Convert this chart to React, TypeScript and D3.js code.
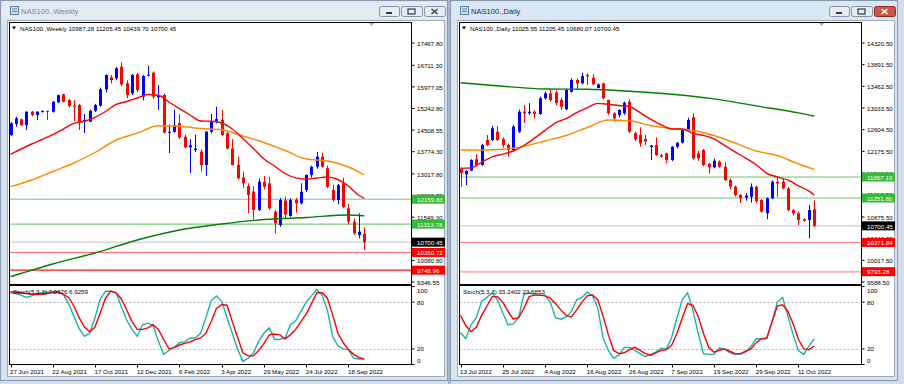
import React from 'react';
import * as d3 from 'd3';

// ---------- NAS100., Weekly ----------
const weeklyOpen = [14342, 14715, 14875, 14681, 15133, 15021, 15140, 15160, 15133, 15450, 15725, 15530, 15340, 15361, 14793, 14793, 15167, 15337, 15894, 16300, 16268, 16662, 16098, 15758, 16404, 15643, 16360, 16459, 15620, 15701, 14420, 14450, 14740, 14283, 13925, 13830, 13774, 13322, 14454, 14794, 14851, 14400, 13890, 13330, 12900, 12606, 12420, 11793, 12755, 12700, 11735, 11284, 12116, 11590, 12133, 12020, 12473, 12983, 13264, 13604, 13210, 12473, 12133, 12700, 11850, 11400, 10943, 10987.28];
const weeklyHigh = [14780, 14964, 14900, 15150, 15160, 15150, 15180, 15170, 15490, 15720, 15740, 15560, 15530, 15400, 15055, 15200, 15400, 15950, 16400, 16380, 16650, 16810, 16200, 16420, 16450, 16380, 16700, 16500, 16040, 15750, 14700, 15200, 15055, 14350, 14200, 14360, 13850, 14470, 15055, 15303, 15190, 14450, 14200, 13600, 13100, 12700, 12600, 12860, 12948, 12925, 11793, 12200, 12250, 12190, 12200, 12700, 13000, 13300, 13763, 13740, 13300, 12650, 12680, 12890, 12000, 11500, 11680, 11205.45];
const weeklyLow = [14300, 14624, 14650, 14511, 14980, 14850, 15100, 14850, 15100, 15430, 15450, 15280, 14817, 14512, 14410, 14780, 15120, 15300, 15790, 16100, 16200, 16000, 15590, 15700, 15800, 15520, 16330, 15580, 15191, 14400, 13730, 14420, 14200, 13900, 13050, 13760, 13095, 12948, 14400, 14740, 14300, 13850, 13300, 12830, 12550, 11680, 11475, 11750, 12500, 11800, 10997, 11225, 11500, 11560, 11700, 11980, 12400, 12900, 13200, 13230, 12540, 12080, 11990, 11850, 11300, 10950, 10830, 10439.70];
const weeklyClose = [14739, 14909, 14681, 15133, 15021, 15133, 15160, 15130, 15473, 15700, 15473, 15327, 15300, 14793, 14851, 15167, 15361, 15894, 16380, 16210, 16608, 16064, 15701, 16380, 15871, 16346, 16390, 15643, 15700, 14420, 14450, 14680, 14263, 13925, 13990, 13880, 13322, 14454, 14794, 14885, 14342, 13890, 13322, 12870, 12700, 12303, 11793, 12755, 12585, 11850, 11340, 12133, 11640, 12133, 12020, 12415, 12983, 13264, 13604, 13264, 12585, 12133, 12640, 11900, 11400, 11000, 11055, 10700.45];

// moving averages: [bar index, value]
const weeklyMaFast = [[0, 13686], [2, 13866], [4, 14036], [6, 14189], [8, 14352], [10, 14545], [12, 14739], [14, 14810], [16, 14943], [18, 15140], [20, 15381], [22, 15480], [24, 15599], [26, 15718], [28, 15691], [30, 15463], [32, 15235], [34, 15021], [36, 14817], [38, 14807], [40, 14749], [42, 14545], [44, 14223], [46, 13883], [48, 13526], [50, 13288], [52, 13033], [54, 12887], [56, 12846], [58, 12880], [60, 12914], [62, 12830], [64, 12608], [66, 12286], [67, 12191]];
const weeklyMaMid = [[0, 12585], [4, 12813], [8, 13101], [12, 13390], [16, 13747], [20, 14172], [24, 14403], [28, 14654], [32, 14638], [36, 14562], [40, 14518], [44, 14308], [48, 14087], [52, 13815], [56, 13526], [60, 13458], [64, 13255], [67, 12982]];
const weeklyMaSlow = [[0, 9526], [8, 9958], [16, 10332], [24, 10774], [32, 11115], [40, 11318], [48, 11471], [56, 11538], [64, 11623], [67, 11599]];

const weeklyStochK = [92, 91, 89, 86, 88, 91, 92, 93, 92, 93, 90, 78, 62, 46, 36, 40, 60, 84, 94, 94, 92, 74, 57, 45, 36, 51, 53, 50, 30, 13, 18, 22, 28, 29, 34, 34, 40, 60, 82, 88, 81, 60, 40, 20, 4, 8, 15, 30, 40, 47, 32, 32, 34, 51, 56, 68, 80, 88, 96, 89, 70, 36, 24, 20, 19, 8, 7, 7.04];
const weeklyStochD = [93, 93, 92, 91, 90, 90, 90, 91, 93, 93, 90, 86, 75, 60, 48, 42, 48, 66, 85, 94, 92, 84, 70, 55, 45, 45, 47, 51, 45, 32, 20, 22, 25, 27, 29, 32, 34, 40, 55, 72, 77, 76, 55, 35, 15, 11, 11, 18, 27, 38, 39, 38, 33, 38, 45, 55, 65, 78, 92, 92, 85, 64, 40, 28, 19, 13, 9, 6.93];

const weeklyPriceTicks = [17467.80, 16711.30, 15977.05, 15242.80, 14508.55, 13774.30, 13017.80, 12283.55, 11549.30, 10815.05, 10080.80, 9346.55];
const weeklyGreenLevels = [12159.83, 11313.78];
const weeklyRedLevels = [10350.72, 9748.96];
const weeklyDateIdx = [0, 8, 16, 24, 32, 40, 48, 56, 64];
const weeklyDates = ['27 Jun 2021', '22 Aug 2021', '17 Oct 2021', '12 Dec 2021', '6 Feb 2022', '3 Apr 2022', '29 May 2022', '24 Jul 2022', '18 Sep 2022'];

// ---------- NAS100., Daily ----------
const dailyOpen = [11830, 11721, 11792, 12018, 11905, 12400, 12400, 12564, 12420, 12301, 12202, 12564, 12960, 12930, 12960, 12915, 13226, 13324, 13340, 13192, 13008, 13356, 13588, 13522, 13690, 13633, 13430, 13522, 13192, 12928, 12895, 12928, 13158, 12532, 12499, 12420, 12260, 12301, 12100, 12136, 12004, 12267, 12346, 12598, 12850, 12136, 12202, 11930, 11860, 11970, 11871, 11608, 11475, 11311, 11260, 11277, 11475, 11212, 10950, 11245, 11574, 11574, 11442, 11013, 10948, 10830, 10816, 11025.55];
const dailyHigh = [11860, 11800, 12020, 12120, 12320, 12499, 12680, 12677, 12450, 12330, 12700, 13000, 13090, 13130, 12990, 13260, 13360, 13400, 13380, 13240, 13420, 13620, 13620, 13730, 13720, 13700, 13520, 13530, 13200, 12950, 13010, 13160, 13206, 12560, 12651, 12500, 12300, 12453, 12130, 12150, 12280, 12360, 12620, 12840, 12930, 12180, 12220, 11940, 12030, 12000, 11960, 11640, 11500, 11330, 11350, 11540, 11500, 11230, 11260, 11600, 11670, 11630, 11470, 11030, 10980, 10850, 11112, 11205.45];
const dailyLow = [11470, 11509, 11780, 11880, 11890, 12280, 12380, 12380, 12250, 12069, 12180, 12540, 12740, 12900, 12830, 12900, 13200, 13150, 13090, 13000, 12990, 13340, 13400, 13500, 13490, 13480, 13420, 13200, 12900, 12780, 12850, 12900, 12540, 12380, 12267, 12300, 12004, 12080, 12050, 11939, 11980, 12240, 12330, 12580, 12010, 11990, 11880, 11741, 11840, 11850, 11590, 11430, 11280, 11150, 11200, 11160, 11150, 10960, 10830, 11230, 11277, 11420, 10990, 10900, 10717, 10780, 10453, 10680.07];
const dailyClose = [11745, 11786, 12004, 11905, 12301, 12301, 12631, 12400, 12301, 12202, 12664, 12960, 12928, 12960, 12915, 13226, 13324, 13192, 13130, 13060, 13390, 13588, 13520, 13667, 13660, 13502, 13500, 13226, 12928, 12829, 12994, 13138, 12564, 12413, 12334, 12370, 12290, 12103, 12070, 12004, 12267, 12346, 12598, 12796, 12037, 12037, 11905, 11860, 11990, 11871, 11608, 11475, 11311, 11245, 11300, 11475, 11190, 10980, 11245, 11574, 11540, 11442, 11013, 10948, 10816, 10802, 11013, 10700.45];

const dailyMaFast = [[0, 11839], [2, 11849], [4, 11960], [6, 12067], [8, 12121], [10, 12182], [12, 12291], [14, 12437], [16, 12590], [18, 12741], [20, 12824], [22, 12942], [24, 13041], [26, 13125], [28, 13107], [30, 13083], [32, 13063], [34, 12942], [36, 12812], [38, 12701], [40, 12618], [42, 12618], [44, 12532], [46, 12491], [48, 12420], [50, 12293], [52, 12166], [54, 12041], [56, 11911], [58, 11741], [60, 11669], [62, 11604], [64, 11493], [66, 11388], [67, 11311]];
const dailyMaMid = [[0, 12202], [4, 12202], [8, 12216], [12, 12275], [16, 12380], [20, 12489], [24, 12647], [28, 12796], [32, 12780], [36, 12687], [40, 12628], [44, 12588], [48, 12489], [52, 12340], [56, 12182], [60, 12093], [64, 11925], [67, 11820]];
const dailyMaSlow = [[0, 13534], [8, 13465], [16, 13410], [24, 13404], [32, 13366], [40, 13307], [48, 13214], [56, 13075], [64, 12938], [67, 12875]];

const dailyStochK = [41, 33, 51, 60, 81, 86, 92, 83, 66, 51, 52, 60, 90, 92, 90, 89, 89, 80, 60, 58, 61, 68, 83, 86, 93, 88, 72, 34, 18, 8, 12, 22, 22, 18, 14, 10, 13, 16, 21, 20, 35, 60, 83, 92, 70, 40, 14, 13, 13, 21, 20, 15, 13, 13, 16, 23, 33, 33, 33, 55, 80, 86, 62, 38, 18, 13, 24, 33.24];
const dailyStochD = [63, 50, 42, 48, 63, 75, 87, 87, 80, 68, 58, 60, 72, 87, 89, 89, 88, 85, 78, 70, 63, 61, 70, 80, 88, 89, 83, 62, 38, 18, 14, 15, 19, 22, 18, 14, 12, 15, 18, 19, 25, 40, 60, 78, 76, 62, 40, 22, 15.7, 18, 20, 17, 14, 14, 17, 20, 28, 33, 34, 55, 75, 76.6, 68, 52, 32, 20, 19, 23.69];

const dailyPriceTicks = [14320.50, 13891.50, 13462.50, 13033.50, 12604.50, 12175.50, 11746.50, 11317.50, 10875.50, 10446.50, 10017.50, 9588.50];
const dailyGreenLevels = [11667.19, 11251.80];
const dailyRedLevels = [10371.84, 9793.28];
const dailyDateIdx = [0, 8, 16, 24, 32, 40, 48, 56, 64];
const dailyDates = ['13 Jul 2022', '25 Jul 2022', '4 Aug 2022', '16 Aug 2022', '26 Aug 2022', '7 Sep 2022', '19 Sep 2022', '29 Sep 2022', '11 Oct 2022'];

const FONT = '"Liberation Sans", Arial, sans-serif';

type Cfg = {
  id: string;
  title: string;
  header: string;
  active: boolean;
  open: number[]; high: number[]; low: number[]; close: number[];
  maFast: number[][]; maMid: number[][]; maSlow: number[][];
  stochK: number[]; stochD: number[]; stochText: string;
  ticks: number[];
  green: number[]; greenStyle: { color: string; width: number }[];
  red: number[]; redStyle: { color: string; width: number }[];
  dateIdx: number[]; dates: string[];
};

function ChartWindow({ dx, c }: { dx: number; c: Cfg }) {
  // plot frame (window-local coords)
  const L = 9.5, R = 411.5, T = 22.5, MB = 284.5, ST = 285.5, SB = 364.5;
  const n = c.close.length;
  const x = d3.scaleLinear().domain([0, n - 1]).range([10.5, 364.3]);
  const y = d3.scaleLinear().domain([c.ticks[c.ticks.length - 1], c.ticks[0]]).range([282, 43]);
  const ys = d3.scaleLinear().domain([0, 100]).range([SB, ST + 1]);
  const maLine = d3.line<number[]>().x(d => x(d[0])).y(d => y(d[1])).curve(d3.curveMonotoneX);
  const stLine = d3.line<number>().x((_, i) => x(i)).y(d => ys(d));
  const fmt = d3.format('.2f');
  const last = c.close[n - 1];
  const clipM = `clipm-${c.id}`;
  const clipS = `clips-${c.id}`;
  const text = { fontFamily: FONT, fontSize: 6.2 } as const;

  const levelBox = (v: number, fill: string, key: string) => (
    <g key={key}>
      <rect x={R + 0.5} y={y(v) - 4.5} width={33} height={9} fill={fill} />
      <text x={R + 5.5} y={y(v) + 0.3} dominantBaseline="central" fill="#fff" style={text}>{fmt(v)}</text>
    </g>
  );

  const buttons = [
    { bx: 379, w: 20, kind: 'min' },
    { bx: 401, w: 21, kind: 'max' },
    { bx: 424, w: 21, kind: 'close' },
  ];

  return (
    <g transform={`translate(${dx},0)`}>
      {/* window chrome */}
      <rect x={0.5} y={0.5} width={447} height={380} fill="#d9e3ef" stroke="#8797ad" />
      <rect x={1.5} y={1.5} width={445} height={18} fill={c.active ? '#dce7f4' : '#e4eaf2'} />
      <rect x={7.5} y={20.5} width={437} height={356} fill="#ffffff" stroke="#9eabbb" />
      <g>
        <rect x={10.5} y={6.5} width={8} height={8} fill="#cfe0f4" stroke="#5c7fa8" />
        <line x1={12} x2={17} y1={9} y2={9} stroke="#5c7fa8" />
        <line x1={12} x2={17} y1={11.5} y2={11.5} stroke="#5c7fa8" />
      </g>
      <text x={21} y={11} dominantBaseline="central" fill={c.active ? '#1c2836' : '#7d8796'} style={{ fontFamily: FONT, fontSize: 7.6 }}>{c.title}</text>
      {buttons.map(b => {
        const red = b.kind === 'close' && c.active;
        const cx = b.bx + b.w / 2;
        return (
          <g key={b.kind}>
            <rect x={b.bx + 0.5} y={6.5} width={b.w} height={10} rx={2} fill={red ? '#d0564a' : '#e6edf5'} stroke={red ? '#8e2c24' : '#8393a8'} />
            {b.kind === 'min' && <rect x={cx - 3} y={12} width={6} height={2} fill="#2c3a4c" />}
            {b.kind === 'max' && <rect x={cx - 3.5} y={9} width={7} height={5} fill="none" stroke="#2c3a4c" strokeWidth={1.2} />}
            {b.kind === 'close' && (
              <path d={`M${cx - 3},${9} L${cx + 3},${14} M${cx + 3},${9} L${cx - 3},${14}`} stroke={red ? '#fff' : '#3b4a5c'} strokeWidth={1.6} />
            )}
          </g>
        );
      })}

      <defs>
        <clipPath id={clipM}><rect x={L} y={T} width={R - L} height={MB - T} /></clipPath>
        <clipPath id={clipS}><rect x={L} y={ST} width={R - L} height={SB - ST} /></clipPath>
      </defs>

      {/* main price window */}
      <g clipPath={`url(#${clipM})`}>
        {c.green.map((v, i) => (
          <line key={`g${i}`} x1={L} x2={R} y1={y(v)} y2={y(v)} stroke={c.greenStyle[i].color} strokeWidth={c.greenStyle[i].width} />
        ))}
        {c.red.map((v, i) => (
          <line key={`r${i}`} x1={L} x2={R} y1={y(v)} y2={y(v)} stroke={c.redStyle[i].color} strokeWidth={c.redStyle[i].width} />
        ))}
        <line x1={L} x2={R} y1={y(last)} y2={y(last)} stroke="#c4c4c4" />
        {c.close.map((cl, i) => {
          const o = c.open[i];
          const up = cl >= o;
          const col = up ? '#0000ff' : '#ff0000';
          const top = y(Math.max(o, cl));
          const bot = y(Math.min(o, cl));
          const cx = Math.round(x(i)) + 0.5;
          return (
            <g key={i}>
              <line x1={cx} x2={cx} y1={y(c.high[i])} y2={y(c.low[i])} stroke={col} strokeWidth={1} />
              <rect x={cx - 1.5} y={top} width={3} height={Math.max(1, bot - top)} fill={col} />
            </g>
          );
        })}
        <path d={maLine(c.maSlow) ?? ''} fill="none" stroke="#008000" strokeWidth={1.4} />
        <path d={maLine(c.maMid) ?? ''} fill="none" stroke="#ff8c00" strokeWidth={1.4} />
        <path d={maLine(c.maFast) ?? ''} fill="none" stroke="#ff0000" strokeWidth={1.4} />
      </g>
      <rect x={L} y={T} width={R - L} height={MB - T} fill="none" stroke="#000" />
      <path d={`M${L + 2.5},26.5 l4,0 l-2,3 z`} fill="#000" />
      <text x={20} y={28.3} dominantBaseline="central" fill="#000" style={text}>{c.header}</text>
      <path d={`M369,${T + 0.5} l5,0 l-2.5,3 z`} fill="#a8a8a8" />

      {/* price axis */}
      {c.ticks.map(v => (
        <g key={v}>
          <line x1={R} x2={R + 3} y1={y(v)} y2={y(v)} stroke="#000" />
          <text x={R + 5.5} y={y(v) + 0.3} dominantBaseline="central" fill="#000" style={text}>{fmt(v)}</text>
        </g>
      ))}
      {c.green.map((v, i) => levelBox(v, '#37b837', `gb${i}`))}
      {levelBox(last, '#000000', 'last')}
      {c.red.map((v, i) => levelBox(v, '#ff0000', `rb${i}`))}

      {/* stochastic window */}
      <g clipPath={`url(#${clipS})`}>
        {[80, 20].map(v => (
          <line key={v} x1={L} x2={R} y1={Math.round(ys(v)) + 0.5} y2={Math.round(ys(v)) + 0.5} stroke="#b4b4b4" strokeDasharray="2,2" />
        ))}
        <path d={stLine(c.stochK) ?? ''} fill="none" stroke="#20b2aa" strokeWidth={1.4} />
        <path d={stLine(c.stochD) ?? ''} fill="none" stroke="#ff0000" strokeWidth={1.4} />
      </g>
      <rect x={L} y={ST} width={R - L} height={SB - ST} fill="none" stroke="#000" />
      <text x={13} y={291.5} dominantBaseline="central" fill="#000" style={text}>{c.stochText}</text>
      {[100, 80, 20, 0].map(v => {
        const yy = Math.min(SB - 4.5, Math.max(ST + 4.5, ys(v)));
        return (
          <g key={v}>
            <line x1={R} x2={R + 3} y1={ys(v)} y2={ys(v)} stroke="#000" />
            <text x={R + 5.5} y={yy} dominantBaseline="central" fill="#000" style={text}>{v}</text>
          </g>
        );
      })}

      {/* time axis */}
      {c.dateIdx.map((d, i) => (
        <g key={d}>
          <line x1={Math.round(x(d)) + 0.5} x2={Math.round(x(d)) + 0.5} y1={SB} y2={SB + 3} stroke="#000" />
          <text x={x(d) - 0.5} y={371.5} dominantBaseline="central" fill="#000" style={text}>{c.dates[i]}</text>
        </g>
      ))}
    </g>
  );
}

const weeklyCfg: Cfg = {
  id: 'w', title: 'NAS100.,Weekly', header: 'NAS100.,Weekly  10987.28 11205.45 10439.70 10700.45', active: false,
  open: weeklyOpen, high: weeklyHigh, low: weeklyLow, close: weeklyClose,
  maFast: weeklyMaFast, maMid: weeklyMaMid, maSlow: weeklyMaSlow,
  stochK: weeklyStochK, stochD: weeklyStochD, stochText: 'Stoch(5,3,3) 7.0376 6.9259',
  ticks: weeklyPriceTicks,
  green: weeklyGreenLevels, greenStyle: [{ color: '#72cc72', width: 1 }, { color: '#5cc05c', width: 1 }],
  red: weeklyRedLevels, redStyle: [{ color: '#ff6a6a', width: 1 }, { color: '#ff1a1a', width: 1.4 }],
  dateIdx: weeklyDateIdx, dates: weeklyDates,
};

const dailyCfg: Cfg = {
  id: 'd', title: 'NAS100.,Daily', header: 'NAS100.,Daily  11025.55 11205.45 10680.07 10700.45', active: true,
  open: dailyOpen, high: dailyHigh, low: dailyLow, close: dailyClose,
  maFast: dailyMaFast, maMid: dailyMaMid, maSlow: dailyMaSlow,
  stochK: dailyStochK, stochD: dailyStochD, stochText: 'Stoch(5,3,3) 33.2402 23.6853',
  ticks: dailyPriceTicks,
  green: dailyGreenLevels, greenStyle: [{ color: '#66cc66', width: 1 }, { color: '#b6e6b6', width: 2 }],
  red: dailyRedLevels, redStyle: [{ color: '#ff7a7a', width: 1 }, { color: '#ffb4b4', width: 2 }],
  dateIdx: dailyDateIdx, dates: dailyDates,
};

export default function App() {
  return (
    <svg width={904} height={384} style={{ position: 'absolute', left: 0, top: 0, display: 'block' }}>
      <rect x={0} y={0} width={904} height={384} fill="#d3deea" />
      <rect x={448} y={0} width={3} height={384} fill="#a9b6c6" />
      <ChartWindow dx={0} c={weeklyCfg} />
      <ChartWindow dx={450} c={dailyCfg} />
    </svg>
  );
}
